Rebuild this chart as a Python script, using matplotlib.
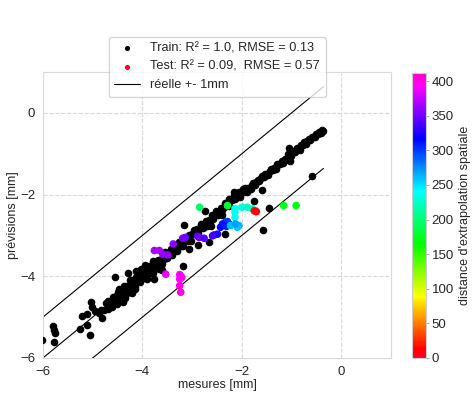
import numpy as np
import matplotlib
matplotlib.use("Agg")
import matplotlib.pyplot as plt
import seaborn as sns

band_a_x = [-4.78, -4.74, -4.70, -4.66, -4.62, -4.60, -4.57, -4.54, -4.52, -4.50,
            -4.47, -4.45, -4.42, -4.40, -4.38, -4.35, -4.33, -4.30, -4.28, -4.26,
            -4.23, -4.21, -4.19, -4.16, -4.14, -4.12, -4.10, -4.07, -4.05, -4.03,
            -4.00, -3.98, -3.96, -3.93, -3.91, -3.88, -3.86, -3.84, -3.81, -3.79,
            -3.76, -3.74, -3.71, -3.69, -3.66, -3.64, -3.61, -3.58, -3.56, -3.53, -3.50,
            -4.48, -4.36, -4.25, -4.15, -4.02, -3.90, -3.78, -3.67, -3.55]
band_a_d = [-0.05, 0.08, -0.10, 0.02, -0.12, 0.10, -0.03, 0.05, -0.15, 0.12,
            0.00, -0.08, 0.06, -0.14, 0.15, -0.02, 0.09, -0.11, 0.04, -0.06,
            0.13, -0.09, 0.01, 0.07, -0.13, 0.10, -0.04, 0.03, -0.10, 0.12,
            -0.01, 0.06, -0.08, 0.09, -0.05, 0.02, 0.11, -0.07, 0.04, -0.12,
            0.08, 0.00, -0.06, 0.10, -0.03, 0.05, -0.09, 0.07, -0.02, 0.04, -0.05,
            0.18, -0.18, 0.17, -0.16, 0.20, -0.17, 0.16, -0.15, 0.14]

band_b_x = [-3.48, -3.45, -3.42, -3.40, -3.37, -3.34, -3.31, -3.29, -3.26, -3.23,
            -3.20, -3.18, -3.15, -3.12, -3.09, -3.06, -3.03, -3.00, -2.97, -2.94,
            -2.91, -2.88, -2.85, -2.82, -2.79, -2.76, -2.73, -2.70, -2.67, -2.64,
            -2.61, -2.58, -2.55, -2.52, -2.49, -2.46, -2.43, -2.40, -2.37, -2.34,
            -2.31, -2.28, -2.25, -2.22, -2.19, -2.16, -2.13, -2.10]
band_b_d = [0.06, -0.04, 0.09, -0.08, 0.03, 0.07, -0.06, 0.01, 0.10, -0.03,
            0.05, -0.09, 0.08, 0.00, -0.05, 0.06, -0.10, 0.04, 0.09, -0.02,
            0.07, -0.06, 0.03, 0.11, -0.04, 0.02, 0.08, -0.07, 0.05, 0.00,
            0.10, -0.03, 0.06, 0.12, -0.01, 0.04, 0.09, 0.01, 0.07, 0.13,
            0.03, 0.08, -0.02, 0.10, 0.05, 0.14, 0.02, 0.09]

band_c_x = [-2.08, -2.05, -2.03, -2.00, -1.98, -1.95, -1.93, -1.90, -1.88, -1.85,
            -1.82, -1.80, -1.77, -1.74, -1.71, -1.68, -1.65, -1.62, -1.59, -1.56,
            -1.53, -1.50, -1.47, -1.44, -1.41, -1.38, -1.35, -1.32, -1.29, -1.26,
            -1.23, -1.20, -1.17, -1.14, -1.11, -1.08, -1.06, -1.04, -1.02, -0.99,
            -0.96, -0.93, -0.90, -0.87, -0.84, -0.81, -0.78, -0.75, -0.72, -0.69,
            -0.66, -0.63, -0.60, -0.57, -0.54, -0.51, -0.48, -0.45, -0.42, -0.39, -0.36]
band_c_d = [0.04, 0.10, -0.03, 0.07, 0.12, 0.00, 0.08, -0.05, 0.05, 0.02,
            -0.04, 0.03, 0.06, -0.02, 0.01, 0.04, -0.03, 0.02, 0.05, -0.01,
            0.03, 0.00, -0.04, 0.02, 0.04, -0.02, 0.01, -0.05, 0.03, 0.00,
            -0.03, 0.02, -0.06, 0.01, -0.02, 0.08, -0.10, 0.03, -0.04, 0.00,
            0.02, -0.03, 0.04, -0.01, -0.06, 0.02, -0.02, 0.03, -0.05, -0.01,
            0.01, -0.04, 0.00, -0.03, -0.06, -0.02, -0.05, -0.01, -0.07, -0.03, -0.08]

# scattered train points away from the band
out_x = [-6.02, -5.79, -5.77, -5.76, -5.77, -5.26, -5.21, -5.11, -5.11, -5.06,
         -5.03, -5.01, -4.87, -4.84, -4.81, -4.69, -4.66, -4.56, -4.29, -4.13,
         -3.76, -3.19, -3.16, -3.06, -2.88, -2.66, -2.63, -2.33, -2.26, -2.16,
         -1.76, -1.59, -1.57, -1.46, -0.59, -1.06, -1.04, -0.73, -2.74, -2.50,
         -2.40, -4.95, -4.40, -3.95, -3.60, -4.20]
out_y = [-5.56, -5.21, -5.32, -5.40, -5.60, -5.29, -4.97, -4.93, -5.20, -5.43,
         -4.62, -4.74, -4.89, -4.83, -5.03, -4.60, -4.76, -4.03, -3.93, -3.87,
         -4.07, -3.74, -2.74, -3.33, -3.23, -3.17, -2.76, -2.97, -2.11, -1.94,
         -2.15, -1.88, -2.86, -2.33, -1.54, -0.85, -1.18, -0.72, -2.40, -2.45,
         -2.50, -4.85, -4.62, -3.72, -3.85, -4.40]

# --- test points, coloured by distance d'extrapolation spatiale ---
test_x = [-2.85, -1.16, -0.91, -2.29,
          -2.14, -2.14, -2.14, -2.00, -1.89, -1.79, -1.73, -1.75, -1.71,
          -2.33, -2.39, -2.43, -2.29, -2.26, -2.36, -2.31,
          -2.23, -2.06, -2.09, -2.13,
          -2.56, -2.49, -2.59,
          -3.19, -3.14, -2.89, -2.86, -2.76, -3.38,
          -3.76, -3.66, -3.59, -3.49,
          -3.53, -3.25, -3.23, -3.21, -3.25, -3.25, -3.23]
test_y = [-2.31, -2.27, -2.27, -2.27,
          -2.34, -2.43, -2.56, -2.31, -2.31, -2.35, -2.39, -2.40, -2.42,
          -2.68, -2.72, -2.80, -2.66, -2.72, -2.75, -2.78,
          -2.76, -2.76, -2.80, -2.72,
          -2.99, -2.97, -3.01,
          -3.07, -3.05, -3.02, -3.05, -3.07, -3.21,
          -3.37, -3.37, -3.46, -3.48,
          -3.95, -3.96, -4.00, -4.03, -4.07, -4.23, -4.39]
test_dist = [195, 170, 168, 180,
             235, 240, 238, 228, 225, 222, 218, 15, 5,
             305, 310, 318, 300, 298, 312, 308,
             262, 265, 258, 270,
             330, 325, 335,
             352, 350, 345, 348, 342, 358,
             368, 366, 362, 360,
             385, 392, 394, 396, 395, 400, 405]

train_x = np.array(band_a_x + band_b_x + band_c_x + out_x)
train_y = np.concatenate([np.array(band_a_x) + band_a_d,
                          np.array(band_b_x) + band_b_d,
                          np.array(band_c_x) + band_c_d,
                          np.array(out_y)])

sns.set_style("whitegrid", {"grid.linestyle": "--", "grid.color": "0.85",
                            "axes.edgecolor": "0.85"})
plt.rcParams['font.family'] = ['Liberation Sans', 'DejaVu Sans']
plt.rcParams['font.size'] = 9

fig = plt.figure(figsize=(4.77, 3.94), dpi=100)
ax = fig.add_axes([0.090, 0.0914, 0.730, 0.726])
cax = fig.add_axes([0.864, 0.0914, 0.029, 0.724])

ax.scatter(train_x, train_y, s=20, color='black', zorder=3,
           label='Train: R² = 1.0, RMSE = 0.13')
sc = ax.scatter(test_x, test_y, s=20, c=test_dist, cmap='gist_rainbow',
                vmin=0, vmax=412, zorder=4,
                label='Test: R² = 0.09,  RMSE = 0.57')

xl = np.array([train_x.min(), train_x.max()])
ax.plot(xl, xl, color='black', lw=0.8, zorder=2, label='réelle +- 1mm')
ax.plot(xl, xl + 1, color='black', lw=0.8, zorder=2)
ax.plot(xl, xl - 1, color='black', lw=0.8, zorder=2)

ax.set_xlim(-6, 1)
ax.set_ylim(-6, 1)
ax.set_xticks([-6, -4, -2, 0])
ax.set_yticks([-6, -4, -2, 0])
ax.set_xlabel('mesures [mm]', labelpad=1)
ax.set_ylabel('prévisions [mm]', labelpad=1)
ax.tick_params(labelsize=9.5, pad=2)

leg = ax.legend(loc='upper center', bbox_to_anchor=(0.5, 1.145), fontsize=9.2,
                frameon=True, borderpad=0.45, labelspacing=0.5, handlelength=2.0,
                markerscale=0.6)
# test handle shows the low end of the colour map
test_handle = leg.legend_handles[1]
test_handle.set_array(None)
test_handle.set_color(plt.get_cmap('gist_rainbow')(0.0))

cb = fig.colorbar(sc, cax=cax)
cb.set_ticks(np.arange(0, 401, 50))
cb.set_label("distance d'extrapolation spatiale", fontsize=9)
cb.outline.set_edgecolor('#cccccc')
cb.outline.set_linewidth(0.8)
cax.tick_params(labelsize=9.5, length=2, width=0.6, color='#999999', pad=2)

fig.savefig('out.png', dpi=100)
